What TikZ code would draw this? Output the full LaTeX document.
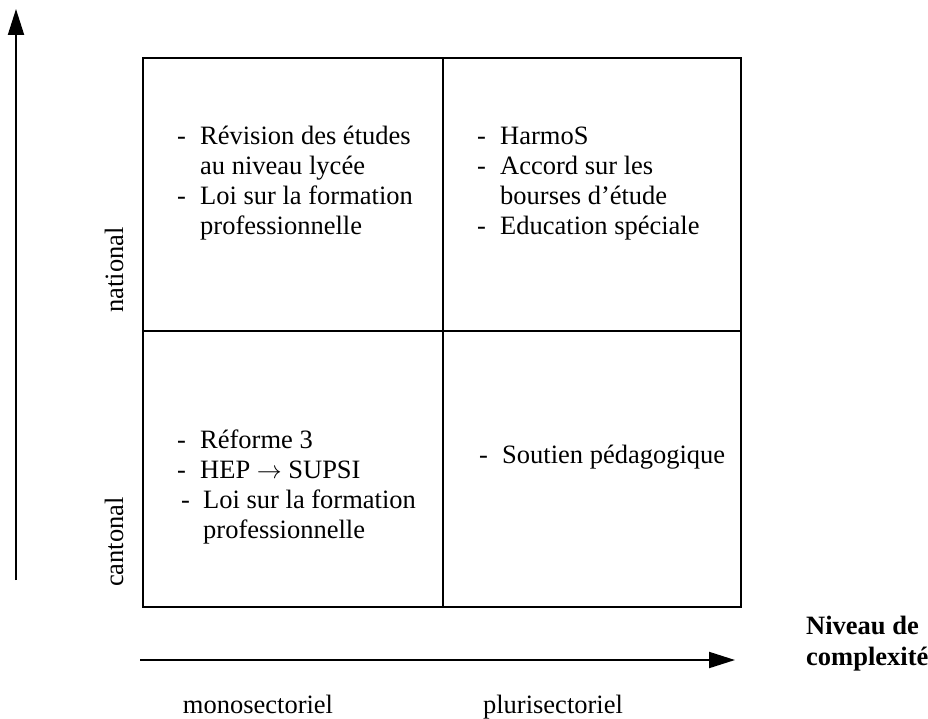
\documentclass[tikz,border=0pt]{standalone}
\usepackage{fontspec}
\setmainfont{Liberation Serif}
\usepackage{array}
\usetikzlibrary{arrows.meta}

\begin{document}
\begin{tikzpicture}[x=1pt,y=-1pt,
  font=\fontsize{26.5}{30}\selectfont,
  cell/.style={anchor=base west, inner sep=0pt, align=left},
  axislabel/.style={anchor=base, inner sep=0pt},
  axis/.style={black, line width=2pt, -{Triangle[length=26pt,width=16pt]}}]
\useasboundingbox (0,0) rectangle (928,719);

% AXES
  \coordinate (yfrom) at (16,580);
  \coordinate (yto)   at (16,9);
  \coordinate (xfrom) at (140,660);
  \coordinate (xto)   at (735,660);
  \draw[axis] (yfrom) -- (yto);
  \draw[axis] (xfrom) -- (xto);

% MATRIX
  \draw[black, line width=2pt] (143,58) rectangle (741,607);
  \draw[black, line width=2pt] (443,58) -- (443,607);
  \draw[black, line width=2pt] (143,331) -- (741,331);

% cells
  \node[cell] (natmono) at (177,145) {\begin{tabular}[t]{@{}p{23pt}@{}l@{}}
    - & Révision des études\\
      & au niveau lycée\\
    - & Loi sur la formation\\
      & professionnelle\end{tabular}};
  \node[cell] (natpluri) at (477,145) {\begin{tabular}[t]{@{}p{23pt}@{}l@{}}
    - & HarmoS\\
    - & Accord sur les\\
      & bourses d’étude\\
    - & Education spéciale\end{tabular}};
  \node[cell] (canmono) at (177,448) {\begin{tabular}[t]{@{}p{23pt}@{}l@{}}
    - & Réforme 3\\
    - & HEP $\rightarrow$ SUPSI\\
    \hspace*{4pt}- & \hspace*{3pt}Loi sur la formation\\
      & \hspace*{3pt}professionnelle\end{tabular}};
  \node[cell] (canpluri) at (479,463) {\begin{tabular}[t]{@{}p{23pt}@{}l@{}}
    - & Soutien pédagogique\end{tabular}};

% labels
  \node[axislabel, rotate=90] (nat) at (123,270) {national};
  \node[axislabel, rotate=90] (can) at (123,542) {cantonal};
  \node[axislabel] (mono)  at (258,713) {monosectoriel};
  \node[axislabel] (pluri) at (553,713) {plurisectoriel};
  \node[cell, font=\fontsize{26.5}{31}\selectfont\bfseries] (cplx) at (806,634)
    {\begin{tabular}[t]{@{}l@{}}Niveau de\\complexité\end{tabular}};

\end{tikzpicture}
\end{document}
